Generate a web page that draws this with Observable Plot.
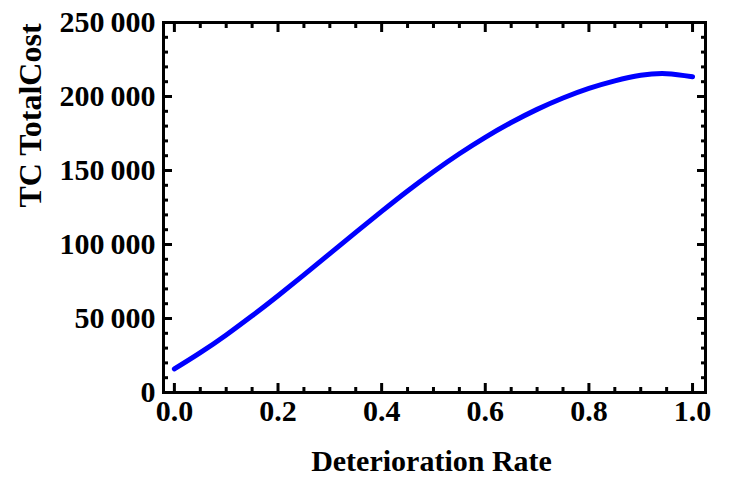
<!DOCTYPE html>
<html>
<head>
<meta charset="utf-8">
<script src="https://cdn.jsdelivr.net/npm/d3@7"></script>
<script src="https://cdn.jsdelivr.net/npm/@observablehq/plot@0.6"></script>
<style>
  html, body { margin: 0; padding: 0; background: #fff; }
</style>
</head>
<body>
<div id="chart"></div>
<script>
// Deterioration rate (x) and total cost TC (y)
const rate = [0.00, 0.05, 0.10, 0.15, 0.20, 0.25, 0.30, 0.35, 0.40, 0.45, 0.50,
              0.55, 0.60, 0.65, 0.70, 0.75, 0.80, 0.85, 0.90, 0.95, 1.00];
const totalCost = [15900, 26900, 38900, 51800, 65400, 79500, 93800, 108200, 122400, 136200, 149200,
                   161300, 172400, 182400, 191300, 199000, 205500, 210600, 214300, 215400, 213300];

const xMajor = [0, 0.2, 0.4, 0.6, 0.8, 1.0];
const xMinor = [0.05, 0.1, 0.15, 0.25, 0.3, 0.35, 0.45, 0.5, 0.55, 0.65, 0.7, 0.75, 0.85, 0.9, 0.95];
const yMajor = [0, 50000, 100000, 150000, 200000, 250000];
const yMinor = [10000, 20000, 30000, 40000, 60000, 70000, 80000, 90000, 110000, 120000, 130000, 140000,
                160000, 170000, 180000, 190000, 210000, 220000, 230000, 240000];

const xTitle = "Deterioration Rate";
const yTitle = "TC TotalCost";

const data = rate.map((r, i) => ({rate: r, tc: totalCost[i]}));
const yFmt = d => d3.format(",")(d).replace(/,/g, "\u2009");
const xFmt = d3.format(".1f");

const chart = Plot.plot({
  width: 729,
  height: 488,
  marginLeft: 163,
  marginRight: 24,
  marginTop: 22,
  marginBottom: 96,
  style: {fontFamily: "'Liberation Serif', 'Times New Roman', serif", fontWeight: "bold", fontSize: "30px", color: "#000", background: "#fff"},
  x: {domain: [-0.021, 1.025]},
  y: {domain: [0, 250000]},
  marks: [
    // tick labels
    Plot.axisX({anchor: "bottom", ticks: xMajor, tickSize: 0, tickPadding: 7, tickFormat: xFmt, label: null, fontVariant: null}),
    Plot.axisY({anchor: "left", ticks: yMajor, tickSize: 0, tickPadding: 8, tickFormat: yFmt, label: null, fontVariant: null}),
    // inward frame ticks, all four sides
    Plot.axisX({anchor: "bottom", ticks: xMajor, tickSize: -9, strokeWidth: 3, fill: "none", label: null}),
    Plot.axisX({anchor: "bottom", ticks: xMinor, tickSize: -5, strokeWidth: 3, fill: "none", label: null}),
    Plot.axisX({anchor: "top", ticks: xMajor, tickSize: -9, strokeWidth: 3, fill: "none", label: null}),
    Plot.axisX({anchor: "top", ticks: xMinor, tickSize: -5, strokeWidth: 3, fill: "none", label: null}),
    Plot.axisY({anchor: "left", ticks: yMajor, tickSize: -9, strokeWidth: 3, fill: "none", label: null}),
    Plot.axisY({anchor: "left", ticks: yMinor, tickSize: -5, strokeWidth: 3, fill: "none", label: null}),
    Plot.axisY({anchor: "right", ticks: yMajor, tickSize: -9, strokeWidth: 3, fill: "none", label: null}),
    Plot.axisY({anchor: "right", ticks: yMinor, tickSize: -5, strokeWidth: 3, fill: "none", label: null}),
    Plot.frame({stroke: "#000", strokeWidth: 3}),
    Plot.line(data, {x: "rate", y: "tc", stroke: "#0000ff", strokeWidth: 5, curve: "natural"}),
    // axis titles
    Plot.text([xTitle], {frameAnchor: "bottom", dy: 78, dx: -3, fontSize: 30, fill: "#000"}),
    Plot.text([yTitle], {frameAnchor: "left", dx: -133, rotate: -90, fontSize: 32, fill: "#000"})
  ]
});
document.getElementById("chart").appendChild(chart);
</script>
</body>
</html>
